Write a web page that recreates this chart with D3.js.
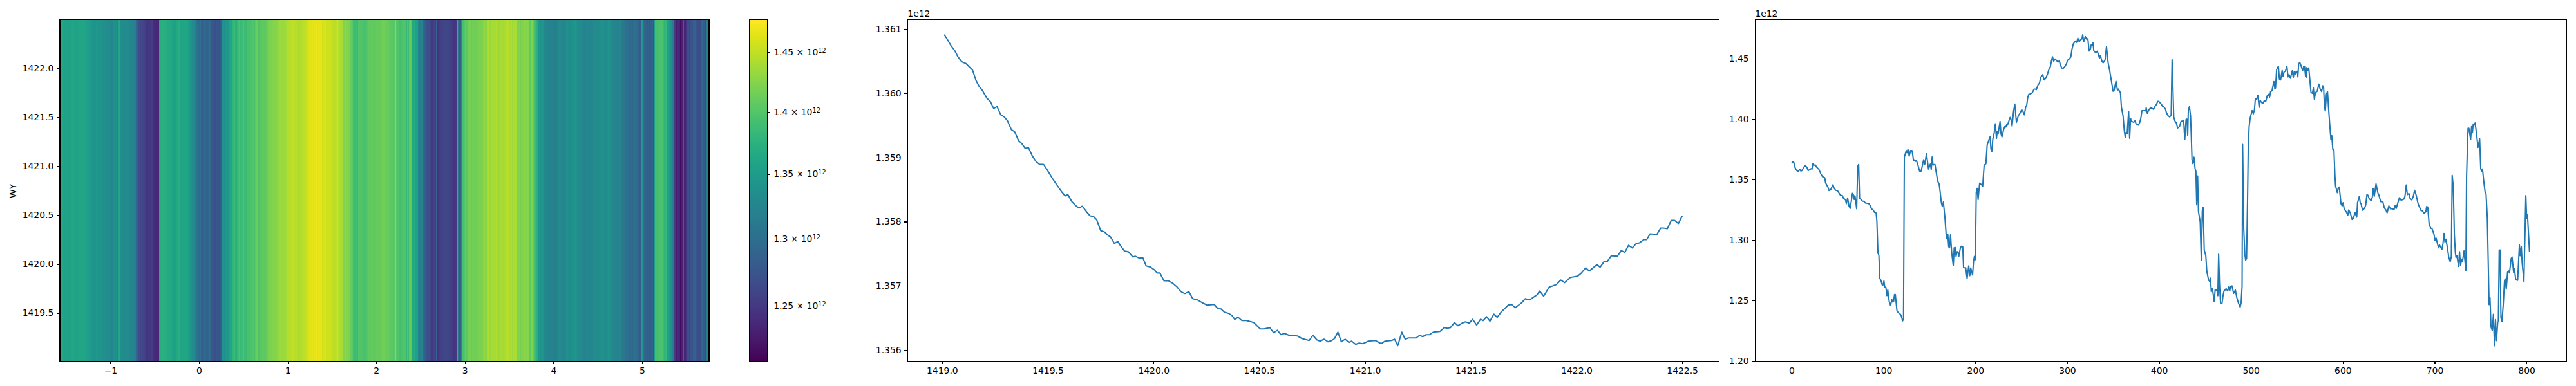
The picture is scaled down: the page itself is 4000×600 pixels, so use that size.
<!DOCTYPE html>
<html><head><meta charset="utf-8">
<script src="https://cdn.jsdelivr.net/npm/d3@7/dist/d3.min.js"></script>
<style>html,body{margin:0;padding:0;background:#fff}svg{display:block}text{font-family:"DejaVu Sans";font-size:13.9px;fill:#000}</style>
</head><body><svg id="c" width="4000" height="600"></svg>
<script>
// Third panel / heatmap columns: sample index and value (x 1e12)
const sampleIndex = [0,1,2.3,3.7,5,7,9,10,11,14.5,16.4,18,21,22.2,23,24,26,27,29.7,31.8,33.6,36,37,39.5,40.7,42.5,45,46,48,50,53.5,55,56.5,58.6,59.6,61,62.4,63.8,66.2,67.5,68.2,69,70.8,72,73,74,75.7,77,78.5,80.4,84,85.5,87,88.6,90.2,92,92.8,94,95,96,97.2,98.6,99.3,100.5,101.4,102.6,103.8,104.7,105.4,106.3,107.7,109.1,110,111,112,112.9,114.7,116.2,117.8,119.2,120.8,121.8,122.7,123.6,124.8,125.5,126.7,128,129.5,131,131.8,132.7,134,134.8,135.8,137.4,139.3,141,143.7,145,146.8,149,151,152,153,154,156,157.5,159,160.6,161.7,163,164,165.2,167,168.5,169.2,170,171,172,173,174.3,176,177,178,179,180,181,182,183.5,184.6,186.3,187.2,189.5,191,192.8,194,195,197,198,199,200,201,202,203,204.7,206,208,
209.6,211.5,212.9,214,216,217,218,219,220.6,221.8,223,223.9,224.8,226.9,228,229,230.9,232,233.2,234.2,235,237.9,238.8,240,241.6,243,244.7,246.8,248.6,250.5,251.7,253.3,255,255.9,257,258.2,260.3,262,264,265.5,266.4,268.3,269.7,271.5,273.4,274.8,276.7,278.6,280.4,281.6,282.8,284,285.3,286.7,288.4,290,291.4,292.8,294.2,295.4,297.5,299.4,300.3,302.9,304,305.2,306.6,308.2,309.4,310.3,311.7,313.1,315,316,316.9,318,319.7,321.1,322.5,323.9,325.3,326,327.4,328.1,329,331.1,332.8,335.1,336,338.1,339.3,341.2,342.8,344.5,346.3,350,351,353.1,354.7,355.7,357,358,359,360.8,362.2,363.2,364,365.3,366.9,368,369,369.9,372.5,373.9,375,377.6,379,380.2,381.4,384.2,385.6,386,387.2,388.9,391,394,395.9,397,398.7,399.6,402.4,403.8,405.7,407.1,408,409.9,411.5,413.2,414.2,415,
416,417.4,418.8,420.2,422.3,424,426.8,428,429.4,430.3,431.2,431.9,433.1,434.3,435,435.9,436.8,438,439.2,440.1,441,442,442.9,444.8,446,447.1,448,449.2,450.9,452,453.9,455.1,456,456.9,458.1,460,461.1,462.1,463,464,464.9,465.8,467,468.6,469.6,470.7,473.1,474.7,475.9,477,478,479.4,481.2,483.1,484.7,486.4,488.3,489.4,490.4,491,492.2,493.4,494.3,495.3,496.4,497.1,498.1,499.2,501.3,502.7,503.9,504.8,506.2,507.6,509,510,511.6,513.3,514.4,516.3,517.9,519.3,520.3,521.4,523,525,526.1,526.8,528,529.9,531,532.4,534,535,536.2,537.6,539.2,540.4,541.5,543,545,546.2,547.1,548.3,549.2,550.4,551.1,552,553.2,554.9,556.3,557.4,558.4,559.5,560.2,560.9,561.9,563,565.4,567,568,569.1,570.3,572.2,574,575.2,577,578.2,579.2,580.1,581,582.2,583.4,584.8,586,587.1,588,589.2,590.4,591.5,592.2,594.1,595,596.2,598.1,599.3,600.4,601.6,603.9,605.6,606.5,608.1,610.2,611.6,613.3,615.2,616.1,618,619.1,620,621.5,623.8,625,
626.3,627.3,628.7,630.8,632.2,633.1,634.3,636.2,638.3,639.4,641.3,643.6,645.3,646.9,648.3,650.2,651.8,654.2,655.8,657,658.1,660,661.6,663.5,666.5,667.7,669.1,670.3,672.1,673.3,675.2,676.8,678.2,680.1,682,683.8,685.2,686.6,688.3,690.4,691.3,692.5,694.1,696,697.1,699.3,700.4,701.6,704.2,705.3,707.9,709.1,710.2,711.2,712.3,714.2,715.4,717,718.2,719.1,720.3,721.5,722.6,723.3,724.3,726.1,727.1,728.2,729.4,730.3,732,734,734.8,735.9,736.4,737.3,739.2,740.2,741.1,742,743,744.1,745.8,747.2,749,750.2,751.1,752.1,753.5,755.1,756,757.4,759.3,760.3,761.4,762.8,764,765.2,766.3,767.3,768.7,769.4,770.3,771.2,772.2,773.3,774.7,776.1,776.8,778,779.4,780.3,781.5,783.4,784.3,786,786.9,788.3,790.4,792.3,793.2,794.4,795.3,797.2,799.3,800.2,801.1,803.3];
const sampleValue = [1.3633,1.3646,1.3644,1.3601,1.358,1.3566,1.3586,1.3571,1.3573,1.3617,1.3605,1.3575,1.359,1.3587,1.3633,1.362,1.362,1.3605,1.3584,1.3548,1.3525,1.3516,1.3472,1.3438,1.341,1.3416,1.3458,1.3433,1.3412,1.3408,1.3367,1.3371,1.3345,1.3334,1.3302,1.3348,1.3283,1.3263,1.3387,1.3371,1.3336,1.3366,1.326,1.361,1.3626,1.3346,1.3336,1.3322,1.3322,1.3307,1.3302,1.3286,1.3258,1.3251,1.323,1.3224,1.3159,1.2893,1.2875,1.2684,1.2668,1.2631,1.2627,1.2663,1.2613,1.261,1.2542,1.2588,1.2542,1.2491,1.2461,1.251,1.2489,1.2493,1.2551,1.2551,1.2415,1.2401,1.2392,1.238,1.2333,1.2346,1.3686,1.3708,1.374,1.3722,1.3749,1.3695,1.374,1.374,1.3708,1.3655,1.3664,1.3651,1.366,1.3623,1.357,1.357,1.3664,1.3628,1.3713,1.3587,1.3628,1.3584,1.3687,1.362,1.3626,1.3557,1.3486,1.3463,1.3398,1.3309,1.3279,1.3315,1.3176,1.3017,1.3044,1.3047,1.2946,1.2937,1.3044,1.2893,1.279,1.2937,1.294,1.2866,1.2905,1.2905,1.2866,1.2928,1.295,1.2946,1.2772,1.2772,1.2684,1.2787,1.2707,1.277,1.2712,1.2822,1.2866,1.2839,1.3398,1.3428,1.3336,1.3472,1.3463,1.3446,
1.3619,1.3631,1.3787,1.3812,1.3853,1.3752,1.3734,1.3832,1.3888,1.3961,1.3841,1.3899,1.3876,1.398,1.3876,1.3853,1.3917,1.3938,1.3934,1.3956,1.395,1.4014,1.4,1.3943,1.4062,1.4124,1.3973,1.4027,1.4048,1.4076,1.4066,1.4035,1.4106,1.4112,1.4177,1.4204,1.4209,1.4218,1.4248,1.4248,1.4243,1.4283,1.4296,1.4349,1.4367,1.4324,1.4337,1.4372,1.4416,1.443,1.4478,1.4514,1.4478,1.4496,1.4484,1.447,1.4482,1.4443,1.4422,1.4416,1.4434,1.446,1.4484,1.4501,1.4514,1.4576,1.462,1.4638,1.4646,1.4634,1.4668,1.4638,1.4661,1.4661,1.4696,1.4638,1.4682,1.4661,1.4664,1.4562,1.4579,1.4611,1.4611,1.4629,1.4563,1.4549,1.4561,1.4505,1.4526,1.4473,1.4466,1.4487,1.4599,1.4469,1.4399,1.423,1.4234,1.4313,1.4239,1.4248,1.423,1.4218,1.4101,1.4027,1.3903,1.385,1.389,1.388,1.4062,1.3841,1.4005,1.3982,1.3973,1.3987,1.3959,1.395,1.3973,1.4009,1.407,1.407,1.4067,1.4094,1.4048,1.4076,1.4097,1.408,1.411,1.4119,1.4147,1.4147,1.4124,1.4106,1.4097,1.408,1.4053,1.4027,1.4018,1.403,1.4491,1.4292,
1.4018,1.3982,1.3968,1.3926,1.3938,1.3982,1.3986,1.3832,1.3996,1.4,1.3867,1.4076,1.4103,1.4027,1.3885,1.3664,1.3633,1.3685,1.3593,1.357,1.3292,1.353,1.3238,1.315,1.2836,1.3244,1.327,1.2919,1.2872,1.2743,1.2672,1.2659,1.2686,1.2574,1.2601,1.2495,1.2592,1.2583,1.2592,1.2542,1.2884,1.2645,1.2477,1.248,1.2539,1.2579,1.2599,1.2581,1.2613,1.2581,1.2617,1.2622,1.256,1.2588,1.2525,1.2482,1.2447,1.2486,1.2618,1.3791,1.3097,1.2884,1.2835,1.2849,1.3353,1.3761,1.3938,1.4009,1.407,1.4044,1.4079,1.4165,1.4165,1.4195,1.4097,1.4156,1.4136,1.4133,1.415,1.415,1.4195,1.4204,1.418,1.4225,1.4236,1.431,1.4248,1.4257,1.4407,1.4437,1.4331,1.4324,1.4402,1.4354,1.439,1.4396,1.4437,1.4349,1.4367,1.4337,1.4399,1.4345,1.439,1.4372,1.4393,1.4395,1.4349,1.4455,1.4469,1.4434,1.4399,1.4434,1.4434,1.4354,1.4345,1.4425,1.4399,1.4422,1.4221,1.4213,1.4257,1.4165,1.4218,1.423,1.4289,1.4253,1.4227,1.4275,1.4257,1.4097,1.4067,1.4204,1.4229,1.4062,1.3938,1.3832,1.3864,1.3749,1.3743,1.353,1.3446,1.3392,1.343,1.3438,1.33,1.3283,1.3309,1.3256,1.3233,1.3208,1.325,1.3226,1.3171,1.318,1.3229,1.319,1.3309,1.3362,1.3306,1.33,1.3247,1.3265,1.329,
1.3376,1.3371,1.3345,1.3327,1.3354,1.3424,1.3362,1.3465,1.3389,1.3371,1.3318,1.3318,1.3265,1.3251,1.3226,1.3283,1.326,1.326,1.3251,1.3286,1.3261,1.3309,1.335,1.333,1.3339,1.3362,1.3456,1.3376,1.3385,1.3345,1.3332,1.3362,1.3412,1.3366,1.3301,1.3269,1.3244,1.3244,1.3222,1.3233,1.3277,1.3274,1.3127,1.3097,1.3097,1.3049,1.2999,1.3017,1.2937,1.296,1.2923,1.2973,1.3056,1.2985,1.3008,1.2925,1.2858,1.2822,1.2866,1.3536,1.3442,1.3044,1.2893,1.2858,1.287,1.2783,1.2905,1.279,1.284,1.2822,1.2911,1.2751,1.353,1.3832,1.3924,1.3924,1.3832,1.3938,1.3888,1.3959,1.395,1.3968,1.3867,1.3766,1.3837,1.3592,1.3566,1.3587,1.3486,1.3389,1.338,1.3176,1.2468,1.2525,1.2282,1.2255,1.2388,1.2128,1.2344,1.217,1.2323,1.2326,1.2916,1.2919,1.2362,1.233,1.2468,1.2663,1.268,1.2595,1.2734,1.2746,1.273,1.2849,1.2861,1.2734,1.2764,1.2673,1.2668,1.296,1.2872,1.2946,1.2813,1.2659,1.3368,1.3182,1.3208,1.2902];
// Second panel: wy and mean value (x 1e12)
const wyValues = [1419.01,1419.024,1419.042,1419.06,1419.076,1419.092,1419.113,1419.128,1419.144,1419.16,1419.176,1419.191,1419.212,1419.228,1419.244,1419.26,1419.278,1419.294,1419.309,1419.328,1419.343,1419.362,1419.378,1419.393,1419.409,1419.427,1419.443,1419.461,1419.48,1419.498,1419.522,1419.545,1419.564,1419.582,1419.595,1419.614,1419.632,1419.648,1419.663,1419.684,1419.7,1419.716,1419.731,1419.75,1419.768,1419.784,1419.797,1419.815,1419.831,1419.847,1419.863,1419.881,1419.902,1419.915,1419.933,1419.949,1419.965,1419.986,1420.004,1420.017,1420.03,1420.049,1420.07,1420.091,1420.112,1420.13,1420.148,1420.167,1420.185,1420.209,1420.235,1420.253,1420.287,1420.303,1420.319,1420.335,1420.356,1420.371,1420.384,1420.4,1420.418,1420.439,1420.474,1420.489,1420.505,1420.523,1420.55,1420.568,1420.586,1420.602,1420.62,1420.641,1420.681,1420.702,1420.736,1420.754,1420.772,1420.788,1420.806,1420.825,1420.843,1420.856,1420.872,1420.888,1420.906,1420.924,1420.937,1420.956,1420.972,1420.99,1421.016,1421.048,1421.077,1421.095,1421.126,1421.14,1421.155,1421.174,1421.19,1421.205,1421.242,1421.258,1421.273,1421.289,1421.305,1421.323,1421.354,1421.375,1421.389,1421.404,1421.423,1421.439,1421.459,1421.475,1421.493,1421.509,1421.528,1421.546,1421.559,1421.575,1421.591,1421.609,1421.625,1421.643,1421.659,1421.677,1421.693,1421.711,1421.742,1421.758,1421.777,1421.795,1421.813,1421.826,1421.845,1421.871,1421.889,1421.905,1421.926,1421.944,1421.971,1422.005,1422.023,1422.044,1422.06,1422.097,1422.112,1422.131,1422.146,1422.165,1422.193,1422.212,1422.228,1422.246,1422.264,1422.283,1422.298,1422.319,1422.332,1422.348,1422.38,1422.398,1422.411,1422.43,1422.448,1422.464,1422.482,1422.5];
const wyMean = [1.36091,1.36084,1.36074,1.36066,1.36056,1.36049,1.36046,1.36041,1.36036,1.3602,1.3601,1.36004,1.35992,1.35987,1.35976,1.35979,1.35966,1.35963,1.35957,1.35943,1.3594,1.35926,1.35921,1.35914,1.35915,1.35902,1.35894,1.35889,1.35889,1.3588,1.35867,1.35856,1.35847,1.3584,1.35842,1.35831,1.35825,1.35821,1.35824,1.35815,1.35809,1.35808,1.35803,1.35786,1.35784,1.35779,1.35776,1.35766,1.35769,1.35761,1.35754,1.35753,1.35745,1.35746,1.35743,1.35744,1.35731,1.35729,1.35725,1.3572,1.3572,1.35708,1.35708,1.35704,1.35698,1.35691,1.35688,1.35691,1.3568,1.35678,1.35673,1.3567,1.35671,1.35665,1.35664,1.35659,1.35657,1.35654,1.35648,1.35651,1.35646,1.35646,1.35643,1.35638,1.35633,1.35633,1.35635,1.35627,1.35631,1.35624,1.35626,1.35623,1.35622,1.35618,1.35615,1.35623,1.35616,1.35614,1.35617,1.35613,1.35615,1.35618,1.35628,1.35613,1.35617,1.35612,1.35614,1.35609,1.35611,1.3561,1.35614,1.35615,1.3561,1.35614,1.35615,1.35617,1.35607,1.35628,1.35617,1.35619,1.35619,1.35623,1.35621,1.35624,1.35624,1.35628,1.35629,1.35635,1.35634,1.35635,1.35643,1.35638,1.35642,1.35644,1.35642,1.35648,1.35639,1.35648,1.35646,1.35652,1.35645,1.35656,1.35651,1.35659,1.35664,1.3567,1.35671,1.35666,1.35674,1.3568,1.35678,1.35682,1.35686,1.35692,1.35684,1.35698,1.357,1.35702,1.35709,1.35705,1.35713,1.35715,1.3572,1.35728,1.35723,1.35733,1.35729,1.35738,1.35738,1.35747,1.35746,1.35755,1.35752,1.35763,1.35759,1.35766,1.35767,1.35772,1.35772,1.35781,1.3578,1.3579,1.3579,1.35789,1.35802,1.35802,1.35797,1.35809];
// Tick labels
const heatXTicks = [-1,0,1,2,3,4,5];
const heatYTicks = [1419.5,1420,1420.5,1421,1421.5,1422];
const colorTicks = [1.25,1.3,1.35,1.4,1.45];
const wyTicks = [1419,1419.5,1420,1420.5,1421,1421.5,1422,1422.5];
const meanTicks = [1.356,1.357,1.358,1.359,1.36,1.361];
const idxTicks = [0,100,200,300,400,500,600,700,800];
const valTicks = [1.2,1.25,1.3,1.35,1.4,1.45];
const thetaExtent = [-1.57,5.756];

const svg = d3.select('#c');
const TL = 4.86, TP = 4.86, SW = 1.11, plotTop = 30, plotBot = 561.5;

function axes(g, x, y, xTicks, yTicks, xFmt, yFmt){
  const [x0,x1] = x.range();
  const ax = g.append('g').attr('transform',`translate(0,${plotBot})`)
    .call(d3.axisBottom(x).tickValues(xTicks).tickFormat(xFmt).tickSize(TL).tickPadding(TP));
  const ay = g.append('g').attr('transform',`translate(${x0},0)`)
    .call(d3.axisLeft(y).tickValues(yTicks).tickFormat(yFmt).tickSize(TL).tickPadding(TP));
  [ax,ay].forEach(a=>{
    a.attr('font-family',null).attr('font-size',null);
    a.select('.domain').remove();
    a.selectAll('.tick line').attr('stroke','#000').attr('stroke-width',SW).attr('shape-rendering','crispEdges');
  });
  g.append('rect').attr('x',x0).attr('y',plotTop).attr('width',x1-x0).attr('height',plotBot-plotTop)
    .attr('fill','none').attr('stroke','#000').attr('stroke-width',SW).attr('shape-rendering','crispEdges');
}

// Panel 1: heatmap
const p1 = svg.append('g');
const hx = d3.scaleLinear().domain(thetaExtent).range([93,1101]);
const hy = d3.scaleLinear().domain([1419,1422.5]).range([562.5,30.5]);
const color = d3.scaleLog().domain([1.2098,1.478]).range([0,1]).clamp(true);
const idxToTheta = d3.scaleLinear().domain([0,803]).range(thetaExtent);
const cols = sampleIndex.map((s,i)=>({s, e: i+1<sampleIndex.length ? sampleIndex[i+1] : 803.3, v: sampleValue[i]}));
p1.append('g').attr('shape-rendering','crispEdges').selectAll('rect').data(cols).join('rect')
  .attr('x',d=>hx(idxToTheta(d.s)))
  .attr('width',d=>Math.max(0.5,Math.min(1101,hx(idxToTheta(d.e)))-hx(idxToTheta(d.s))+0.6))
  .attr('y',plotTop).attr('height',plotBot-plotTop)
  .attr('fill',d=>d3.interpolateViridis(color(d.v)));
axes(p1,hx,hy,heatXTicks,heatYTicks,d3.format('d'),d3.format('.1f'));
p1.append('text').text('WY').attr('text-anchor','middle')
  .attr('transform','translate(24.5,297) rotate(-90)');

// Colorbar
const cb = svg.append('g');
const cy = d3.scaleLog().domain(color.domain()).range([plotBot,plotTop]);
const levels = d3.range(256);
const lev = d3.scaleLinear().domain([0,256]).range([plotBot,plotTop]);
cb.append('g').attr('shape-rendering','crispEdges').selectAll('rect').data(levels).join('rect')
  .attr('x',1164).attr('width',27.5)
  .attr('y',d=>lev(d+1)).attr('height',d=>lev(d)-lev(d+1)+0.6)
  .attr('fill',d=>d3.interpolateViridis((d+0.5)/256));
cb.append('rect').attr('x',1164).attr('y',plotTop).attr('width',27.5).attr('height',plotBot-plotTop)
  .attr('fill','none').attr('stroke','#000').attr('stroke-width',SW).attr('shape-rendering','crispEdges');
const cAxis = cb.append('g').attr('transform','translate(1191.5,0)')
  .call(d3.axisRight(cy).tickValues(colorTicks).tickFormat('').tickSize(TL));
cAxis.attr('font-family',null).attr('font-size',null);
cAxis.select('.domain').remove();
cAxis.selectAll('.tick line').attr('stroke','#000').attr('stroke-width',SW).attr('shape-rendering','crispEdges');
cAxis.selectAll('.tick text').each(function(d){
  const t = d3.select(this).text(null).attr('x',TL+TP).attr('dy','0.32em').attr('text-anchor','start');
  t.append('tspan').text(`${d} × 10`);
  t.append('tspan').text('12').attr('dy','-0.42em').style('font-size','9.7px');
});

// Panel 2
const p2 = svg.append('g');
const x2 = d3.scaleLinear().domain([1418.837,1422.675]).range([1409.3,2669.6]);
const y2 = d3.scaleLinear().domain([1.355827,1.361148]).range([plotBot,plotTop]);
axes(p2,x2,y2,wyTicks,meanTicks,d3.format('.1f'),d3.format('.3f'));
p2.append('path').attr('d',d3.line().x((d,i)=>x2(wyValues[i])).y(d=>y2(d))(wyMean))
  .attr('fill','none').attr('stroke','#1f77b4').attr('stroke-width',2.08).attr('stroke-linejoin','round');
p2.append('text').text('1e12').attr('x',1409.3).attr('y',25.5);

// Panel 3
const p3 = svg.append('g');
const x3 = d3.scaleLinear().domain([-39.7,843.4]).range([2725.4,3985]);
const y3 = d3.scaleLinear().domain([1.2,1.48241]).range([plotBot,plotTop]);
axes(p3,x3,y3,idxTicks,valTicks,d3.format('d'),d3.format('.2f'));
p3.append('path').attr('d',d3.line().x((d,i)=>x3(sampleIndex[i])).y(d=>y3(d))(sampleValue))
  .attr('fill','none').attr('stroke','#1f77b4').attr('stroke-width',2.08).attr('stroke-linejoin','round');
p3.append('text').text('1e12').attr('x',2725.4).attr('y',25.5);
</script></body></html>
